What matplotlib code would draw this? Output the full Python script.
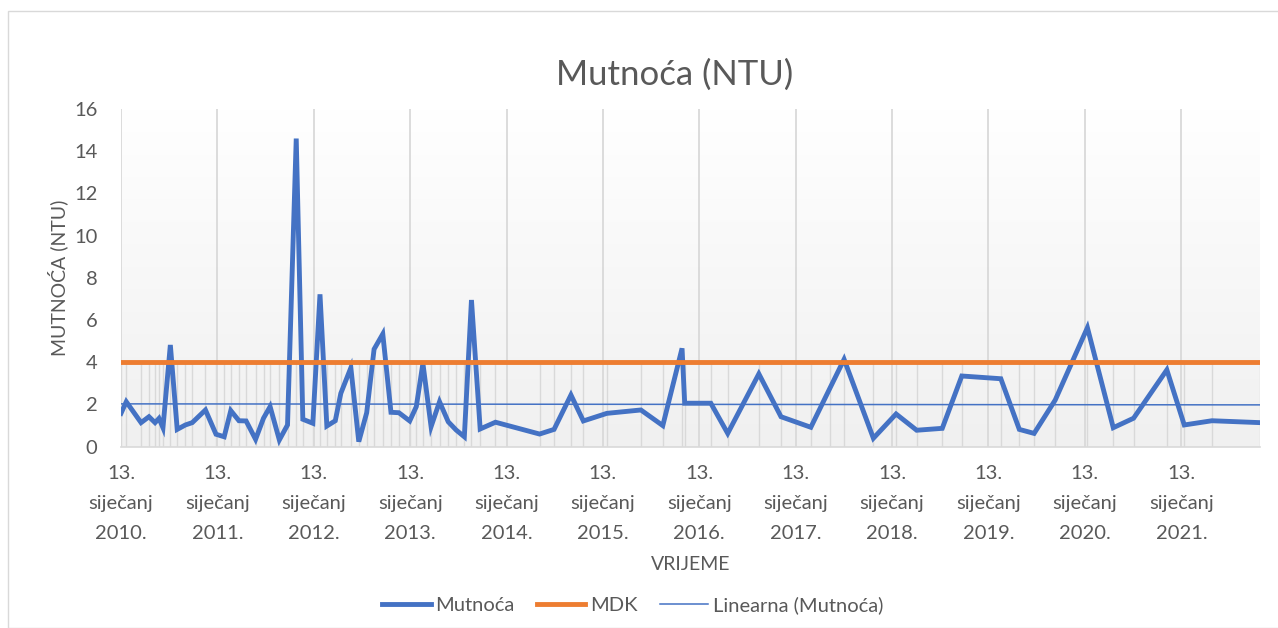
import numpy as np
import pandas as pd
import matplotlib
matplotlib.use("Agg")
from matplotlib import pyplot as plt
import matplotlib.dates as mdates
from matplotlib.patches import Rectangle

# measurement dates and turbidity values (NTU)
dates = [
    "2010-01-13", "2010-02-02", "2010-03-30", "2010-04-29", "2010-05-22", "2010-06-06",
    "2010-06-21", "2010-07-19", "2010-08-14", "2010-09-14", "2010-10-10", "2010-11-29",
    "2011-01-08", "2011-02-08", "2011-03-05", "2011-04-05", "2011-05-02", "2011-06-07",
    "2011-07-07", "2011-08-01", "2011-09-05", "2011-10-06", "2011-11-08", "2011-12-03",
    "2012-01-10", "2012-02-06", "2012-03-03", "2012-04-04", "2012-04-25", "2012-06-02",
    "2012-07-02", "2012-08-01", "2012-08-29", "2012-10-01", "2012-11-01", "2012-12-01",
    "2013-01-11", "2013-02-05", "2013-03-02", "2013-04-02", "2013-05-04", "2013-06-06",
    "2013-07-06", "2013-08-06", "2013-09-02", "2013-10-05", "2013-12-02", "2014-05-18",
    "2014-07-12", "2014-09-14", "2014-10-31", "2015-01-28", "2015-06-06", "2015-08-28",
    "2015-11-09", "2015-11-19", "2016-02-26", "2016-04-30", "2016-08-26", "2016-11-18",
    "2017-03-11", "2017-05-23", "2017-07-15", "2017-11-03", "2018-01-28", "2018-04-16",
    "2018-07-22", "2018-10-04", "2019-03-01", "2019-05-10", "2019-07-05", "2019-09-23",
    "2020-01-23", "2020-04-30", "2020-07-16", "2020-11-19", "2021-01-24", "2021-05-09",
    "2021-11-07",
]
mutnoca = [
    1.58, 2.13, 1.14, 1.42, 1.14, 1.34,
    0.90, 4.82, 0.82, 1.03, 1.14, 1.74,
    0.59, 0.47, 1.71, 1.23, 1.22, 0.35,
    1.35, 1.90, 0.32, 1.03, 14.6, 1.30,
    1.11, 7.22, 0.98, 1.23, 2.53, 3.74,
    0.24, 1.61, 4.62, 5.34, 1.63, 1.61,
    1.22, 1.90, 3.95, 0.95, 2.13, 1.18,
    0.79, 0.47, 6.95, 0.84, 1.16, 0.60,
    0.82, 2.45, 1.22, 1.58, 1.74, 1.00,
    4.66, 2.06, 2.06, 0.63, 3.45, 1.42,
    0.92, 2.79, 4.14, 0.40, 1.55, 0.78,
    0.87, 3.35, 3.22, 0.82, 0.63, 2.21,
    5.64, 0.90, 1.35, 3.64, 1.03, 1.23,
    1.14,
]
mdk = 4.0
years = list(range(2010, 2022))
tick_labels = ["13.\nsiječanj\n%d." % y for y in years]

blue = "#4472C4"
orange = "#ED7D31"
grey_text = "#595959"
grid_col = "#D9D9D9"
fam = ["Lato", "DejaVu Sans"]
plt.rcParams["font.family"] = fam

x = mdates.date2num(pd.to_datetime(dates))
y = np.array(mutnoca)
mdk_line = np.full(len(x), mdk)

# linear trend
k, b = np.polyfit(x, y, 1)
trend = k * x + b

fig = plt.figure(figsize=(12.78, 6.28), dpi=100)
ax = fig.add_axes([121 / 1278, 1 - 446.7 / 628, (1260 - 121) / 1278, (446.7 - 109) / 628])

# chart area border
fig.patches.append(Rectangle((7.5 / 1278, 0), 1.0, (628 - 10.5) / 628, transform=fig.transFigure,
                             fill=False, edgecolor="#D9D9D9", linewidth=1.0, zorder=0))

# gradient plot background
grad = np.linspace(1.0, 0.0, 256).reshape(-1, 1)
ax.imshow(grad, extent=[0, 1, 0, 1], transform=ax.transAxes, aspect="auto",
          cmap=matplotlib.colors.LinearSegmentedColormap.from_list("g", ["#F0F0F0", "#FFFFFF"]),
          vmin=0, vmax=1, zorder=0)

# drop lines and year gridlines
ax.vlines(x, 0, mdk, color=grid_col, linewidth=1.0, zorder=1)
year_ticks = mdates.date2num(pd.to_datetime(["%d-01-13" % yy for yy in years]))
ax.vlines(year_ticks, 0, 16, color=grid_col, linewidth=1.3, zorder=1)

ax.plot(x, y, color=blue, linewidth=3.5, solid_joinstyle="miter", zorder=3, label="Mutnoća")
ax.plot(x, mdk_line, color=orange, linewidth=3.5, zorder=4, label="MDK")
ax.plot(x, trend, color=blue, linewidth=1.1, zorder=5, label="Linearna (Mutnoća)")

ax.set_xlim(x[0], x[-1])
ax.set_ylim(0, 16)
ax.set_yticks(np.arange(0, 17, 2))
ax.set_xticks(year_ticks)
ax.set_xticklabels(tick_labels)
ax.tick_params(axis="both", length=0, labelsize=14.5, colors=grey_text)
ax.tick_params(axis="x", pad=13)
ax.tick_params(axis="y", pad=17)
for tick in ax.xaxis.get_major_ticks():
    tick.label1.set_linespacing(1.95)
for s in ["top", "right", "left"]:
    ax.spines[s].set_visible(False)
ax.spines["bottom"].set_color(grid_col)
ax.spines["bottom"].set_linewidth(1.2)

fig.text(675 / 1278, 1 - 75 / 628, "Mutnoća (NTU)", fontsize=25, color=grey_text,
         ha="center", va="center")
ax.set_ylabel("MUTNOĆA (NTU)", fontsize=14, color=grey_text, labelpad=4)
ax.set_xlabel("VRIJEME", fontsize=14, color=grey_text, labelpad=10)

leg = fig.legend(loc="center", bbox_to_anchor=(633 / 1278, 1 - 605 / 628), ncol=3, frameon=False,
                 fontsize=14.5, handlelength=2.4, handletextpad=0.25, columnspacing=1.1)
for t in leg.get_texts():
    t.set_color(grey_text)

fig.savefig("out.png", dpi=100)
